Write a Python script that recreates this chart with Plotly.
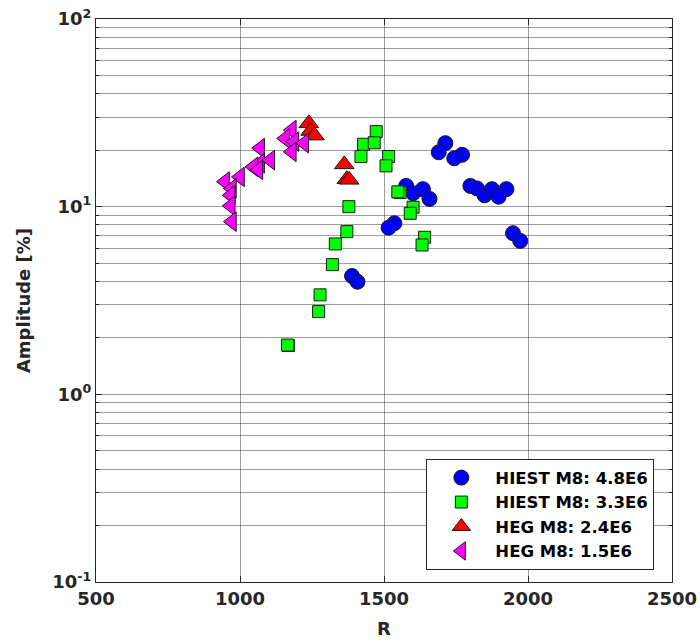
import plotly.graph_objects as go

# HIEST M8, P0 = 4.8E6
hiest48_r = [1713, 1690, 1771, 1744, 1577, 1601, 1635, 1658, 1800, 1823, 1849, 1875,
             1925, 1898, 1536, 1516, 1948, 1973, 1389, 1408]
hiest48_a = [21.8, 19.5, 18.9, 18.1, 12.9, 11.8, 12.4, 11.0, 12.9, 12.5, 11.5, 12.4,
             12.4, 11.3, 8.16, 7.73, 7.22, 6.57, 4.27, 3.98]

# HIEST M8, P0 = 3.3E6
hiest33_r = [1473, 1429, 1466, 1420, 1516, 1507, 1556, 1548, 1601, 1591, 1378, 1371,
             1331, 1321, 1278, 1273, 1168, 1165, 1641, 1632]
hiest33_a = [25.1, 21.5, 21.9, 18.5, 18.5, 16.5, 11.9, 12.0, 9.93, 9.22, 10.0, 7.36,
             6.33, 4.91, 3.39, 2.76, 1.82, 1.83, 6.87, 6.25]

# HEG M8, P0 = 2.4E6
heg24_r = [1239, 1245, 1259, 1362, 1371, 1379]
heg24_a = [27.8, 25.3, 23.9, 16.8, 14.0, 13.9]

# HEG M8, P0 = 1.5E6
heg15_r = [1180, 1157, 1189, 1223, 1180, 1070, 1070, 1105, 1047, 1064, 1000, 948,
           972, 968, 968, 972]
heg15_a = [25.6, 23.1, 22.2, 21.8, 19.6, 20.5, 17.0, 17.7, 16.3, 15.7, 14.4, 13.6,
           12.5, 11.5, 10.1, 8.32]

series_names = ["HIEST M8: 4.8E6", "HIEST M8: 3.3E6", "HEG M8: 2.4E6", "HEG M8: 1.5E6"]

x_tick_vals = [500, 1000, 1500, 2000, 2500]
y_tick_vals = [0.1, 1, 10, 100]
y_tick_text = ["10<sup>-1</sup>", "10<sup>0</sup>", "10<sup>1</sup>", "10<sup>2</sup>"]
y_minor_vals = [m * d for d in (0.1, 1, 10) for m in range(2, 10)]

FONT = "DejaVu Sans"
INK = "#262626"
GRID = "rgba(38,38,38,0.45)"

styles = [
    dict(symbol="circle", color="#0000ff", size=15),
    dict(symbol="square", color="#00ff00", size=12),
    dict(symbol="triangle-up", color="#ff0000", size=17),
    dict(symbol="triangle-left", color="#ff00ff", size=17),
]
data = [(hiest48_r, hiest48_a), (hiest33_r, hiest33_a), (heg24_r, heg24_a), (heg15_r, heg15_a)]

fig = go.Figure()
for name, (r, a), st in zip(series_names, data, styles):
    fig.add_trace(go.Scatter(
        x=r, y=a, mode="markers", name=name,
        marker=dict(symbol=st["symbol"], color=st["color"], size=st["size"],
                    line=dict(color="#1a1a1a", width=1)),
    ))

axis_common = dict(
    showline=True, linecolor=INK, linewidth=1.2, mirror="allticks",
    ticks="inside", tickcolor=INK, ticklen=6,
    showgrid=True, gridcolor=GRID, gridwidth=1.2,
    zeroline=False, automargin=False,
    tickfont=dict(family=FONT, size=18, color=INK, weight="bold"),
)

fig.update_xaxes(
    range=[500, 2500], tickvals=x_tick_vals,
    title=dict(text="R", font=dict(family=FONT, size=18, color=INK, weight="bold"), standoff=14),
    **axis_common,
)
fig.update_yaxes(
    type="log", range=[-1, 2], tickvals=y_tick_vals, ticktext=y_tick_text,
    minor=dict(tickvals=y_minor_vals, ticks="inside", ticklen=3, tickcolor=INK,
               showgrid=True, gridcolor=GRID, gridwidth=1.2),
    title=dict(text="Amplitude [%]", font=dict(family=FONT, size=18, color=INK, weight="bold"), standoff=16),
    **axis_common,
)

fig.update_layout(
    width=700, height=642,
    margin=dict(l=96, r=28, t=19, b=60),
    paper_bgcolor="white", plot_bgcolor="white",
    showlegend=True,
    legend=dict(
        x=0.969, xanchor="right", y=0.021, yanchor="bottom",
        bgcolor="white", bordercolor=INK, borderwidth=1.2,
        font=dict(family=FONT, size=16.5, color="#000000", weight="bold"),
        itemwidth=58, tracegroupgap=0,
    ),
)

fig.write_html("out.html")
